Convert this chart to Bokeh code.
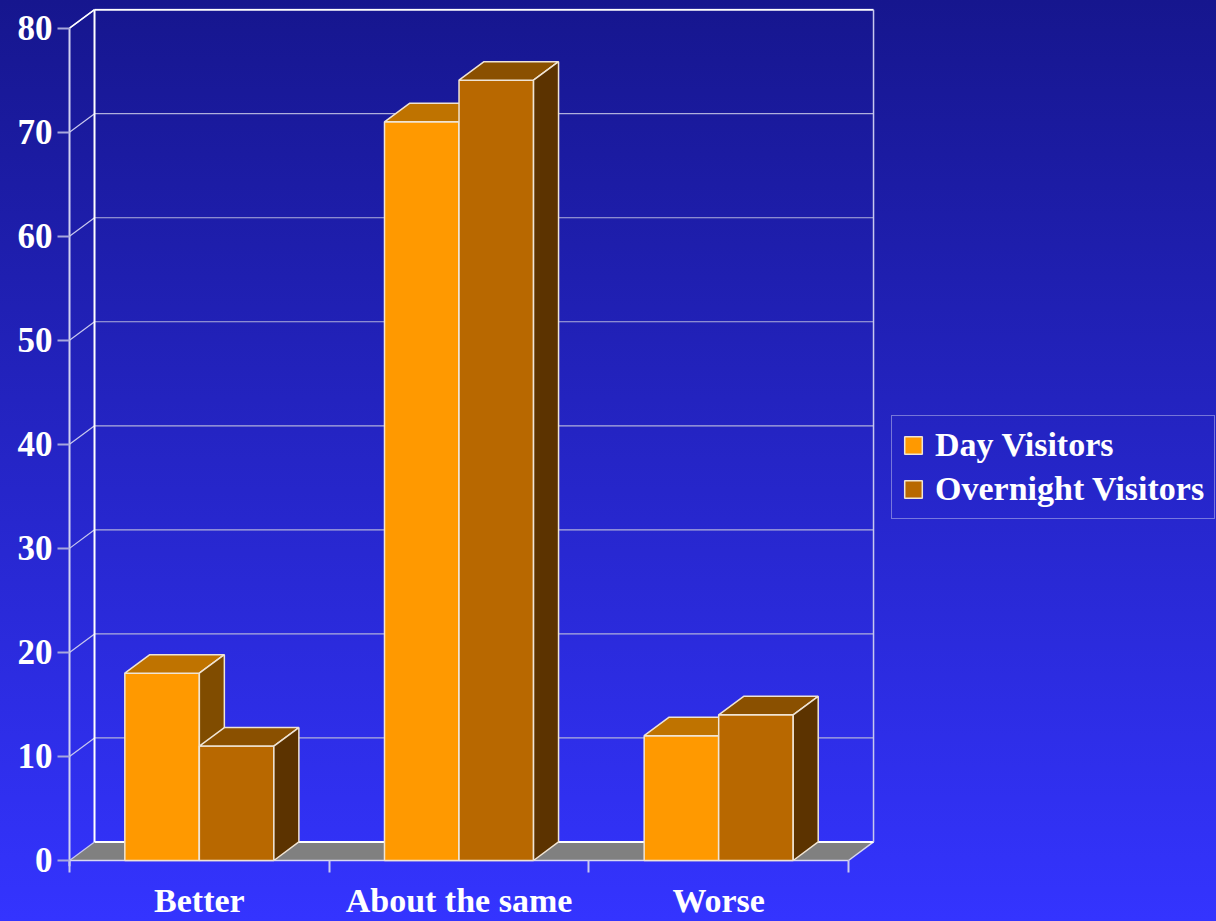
from bokeh.plotting import figure
from bokeh.models import FixedTicker, Legend, LegendItem, Range1d
from bokeh.embed import file_html
from bokeh.resources import INLINE

# ---- data ----
categories = ["Better", "About the same", "Worse"]
day_visitors = [18, 71, 12]
overnight_visitors = [11, 75, 14]
series_names = ["Day Visitors", "Overnight Visitors"]
y_ticks = [0, 10, 20, 30, 40, 50, 60, 70, 80]

# ---- 3D geometry (data units) ----
DX = 0.0963   # depth offset along x (category units)
DY = 1.78     # depth offset along y (value units)
BAR_W = 0.287
N = len(categories)
YMAX = 80
Y0 = -0.577

FONT = "Liberation Serif"

p = figure(width=1216, height=921,
           x_range=Range1d(-0.0116, 4.4171), y_range=Range1d(Y0, 81.89),
           output_backend="svg", toolbar_location=None,
           min_border_left=66, min_border_right=0,
           min_border_top=8, min_border_bottom=55)
p.background_fill_color = None
p.border_fill_color = None
p.outline_line_color = None
p.styles = {"background": "linear-gradient(to bottom, #16168e, #3434ff)"}
p.xgrid.visible = False
p.ygrid.visible = False

# floor
p.patch([0, N, N + DX, DX], [0, 0, DY, DY], fill_color="#808080", line_color=None)
# floor edges
p.line([0, N], [0, 0], line_color="#d8d8f0", line_width=1.5)
p.line([N, N + DX], [0, DY], line_color="#d8d8f0", line_width=1.5)
p.line([DX, N + DX], [DY, DY], line_color="white", line_width=2)

# left wall diagonal grid lines
p.segment(x0=[0] * len(y_ticks), y0=y_ticks, x1=[DX] * len(y_ticks),
          y1=[t + DY for t in y_ticks], line_color="#c8c8ee", line_width=1.2)
# back wall horizontal grid lines
inner = [t for t in y_ticks if 0 < t < YMAX]
p.segment(x0=[DX] * len(inner), y0=[t + DY for t in inner],
          x1=[N + DX] * len(inner), y1=[t + DY for t in inner],
          line_color="#b0b0dc", line_width=1.2)
# back wall edges
p.line([DX, DX], [DY, YMAX + DY], line_color="white", line_width=2)
p.line([DX, N + DX], [YMAX + DY, YMAX + DY], line_color="white", line_width=2)
p.line([N + DX, N + DX], [DY, YMAX + DY], line_color="#c8c8ee", line_width=1.5)
p.line([0, DX], [YMAX, YMAX + DY], line_color="white", line_width=1.5)
# front axis line
p.line([0, 0], [Y0, YMAX], line_color="#d0d0f0", line_width=2)


def faces(vals, offset):
    fx, fy, tx, ty, sx, sy = [], [], [], [], [], []
    for i, v in enumerate(vals):
        c = i + 0.5
        x0 = c + offset
        x1 = x0 + BAR_W
        fx.append([x0, x1, x1, x0]); fy.append([0, 0, v, v])
        tx.append([x0, x1, x1 + DX, x0 + DX]); ty.append([v, v, v + DY, v + DY])
        sx.append([x1, x1 + DX, x1 + DX, x1]); sy.append([0, DY, v + DY, v])
    return fx, fy, tx, ty, sx, sy


styles = [
    (day_visitors, -BAR_W, "#ff9900", "#bf7300", "#804c00"),
    (overnight_visitors, 0.0, "#b86800", "#8a5000", "#5c3300"),
]
front_renderers = []
for vals, off, cf, ct, cs in styles:
    fx, fy, tx, ty, sx, sy = faces(vals, off)
    r = p.patches(fx, fy, fill_color=cf, line_color="#f0e4d4", line_width=1.5)
    p.patches(tx, ty, fill_color=ct, line_color="#f0e4d4", line_width=1.5)
    p.patches(sx, sy, fill_color=cs, line_color="#f0e4d4", line_width=1.5)
    front_renderers.append(r)

# y axis
ya = p.yaxis[0]
ya.ticker = FixedTicker(ticks=y_ticks, minor_ticks=[])
ya.axis_line_color = None
ya.major_tick_line_color = "#a8a8dc"
ya.major_tick_line_width = 2
ya.major_tick_out = 9
ya.major_tick_in = 3
ya.minor_tick_line_color = None
ya.major_label_standoff = 5
ya.major_label_text_font = FONT
ya.major_label_text_font_style = "bold"
ya.major_label_text_font_size = "35px"
ya.major_label_text_color = "white"

# x axis
xa = p.xaxis[0]
xa.ticker = FixedTicker(ticks=[i + 0.5 for i in range(N)],
                        minor_ticks=[float(i) for i in range(N + 1)])
xa.major_label_overrides = {i + 0.5: c for i, c in enumerate(categories)}
xa.axis_line_color = None
xa.major_tick_line_color = None
xa.major_tick_in = 0
xa.major_tick_out = 0
xa.minor_tick_line_color = "#c8c8ee"
xa.minor_tick_line_width = 2
xa.minor_tick_in = 6
xa.minor_tick_out = 6
xa.major_label_standoff = 9
xa.major_label_text_font = FONT
xa.major_label_text_font_style = "bold"
xa.major_label_text_font_size = "34px"
xa.major_label_text_color = "white"

legend = Legend(items=[LegendItem(label=series_names[i], renderers=[front_renderers[i]])
                       for i in range(2)])
legend.location = (825, 347)
legend.margin = 0
legend.padding = 10
legend.spacing = 6
legend.glyph_width = 22
legend.glyph_height = 22
legend.label_height = 36
legend.label_standoff = 11
legend.label_text_font = FONT
legend.label_text_font_style = "bold"
legend.label_text_font_size = "34px"
legend.label_text_color = "white"
legend.background_fill_alpha = 0
legend.border_line_color = "#c8c8f0"
legend.border_line_width = 1.5
p.add_layout(legend)

open("out.html", "w").write(file_html(p, INLINE))
